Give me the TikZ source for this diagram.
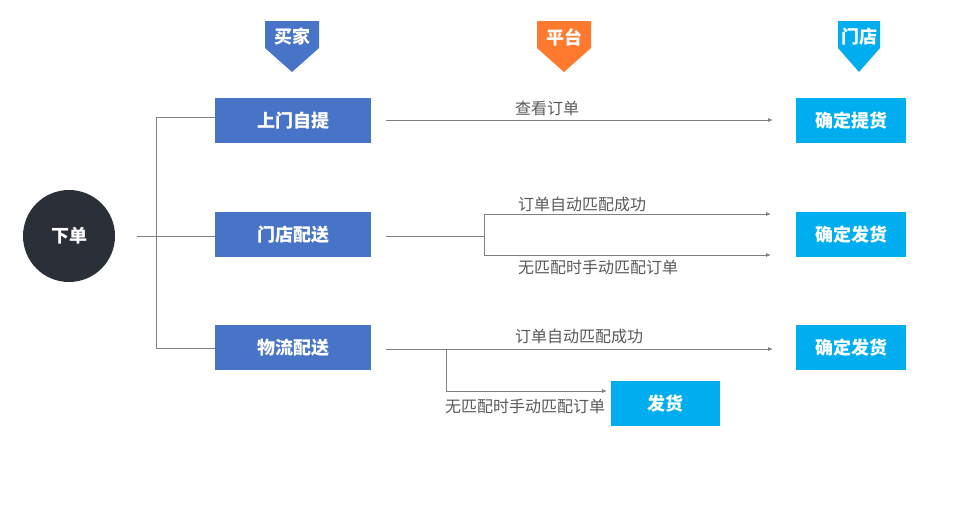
\documentclass[tikz,border=0pt]{standalone}
\usepackage{fontspec}
\newfontfamily\cjk{Noto Sans CJK SC}
\usetikzlibrary{arrows.meta}
\definecolor{buyer}{HTML}{4874C8}
\definecolor{platform}{HTML}{FF7A2F}
\definecolor{shop}{HTML}{00AEEF}
\definecolor{dark}{HTML}{2B2F38}
\definecolor{linegray}{HTML}{808080}
\definecolor{textgray}{HTML}{595959}
\begin{document}
\begin{tikzpicture}[x=1pt,y=-1pt,
  buyerbox/.style={fill=buyer,text=white,minimum width=156pt,minimum height=45pt,
    font=\cjk\bfseries\fontsize{18}{18}\selectfont,inner sep=0pt},
  shopbox/.style={fill=shop,text=white,minimum width=110pt,minimum height=45pt,
    font=\cjk\bfseries\fontsize{18}{18}\selectfont,inner sep=0pt},
  head/.style={text=white,font=\cjk\bfseries\fontsize{18}{18}\selectfont,inner sep=0pt},
  lbl/.style={text=textgray,font=\cjk\fontsize{16}{16}\selectfont,inner sep=0pt},
  link/.style={draw=linegray,line width=0.8pt},
  arr/.style={link,-{Latex[length=5pt,width=4pt]}}]
\useasboundingbox (0,0) rectangle (960,514);

% column heads
\fill[buyer] (265,21) -- (319,21) -- (319,48) -- (292,72) -- (265,48) -- cycle;
\node[head] (hbuyer) at (292,37) {买家};
\fill[platform] (537,21) -- (591,21) -- (591,48) -- (564,72) -- (537,48) -- cycle;
\node[head] (hplatform) at (564,37) {平台};
\fill[shop] (838,21) -- (880,21) -- (880,48) -- (859,72) -- (838,48) -- cycle;
\node[head] (hshop) at (859,37) {门店};

% order
\node[circle,fill=dark,minimum size=92pt,inner sep=0pt,text=white,
  font=\cjk\bfseries\fontsize{18}{18}\selectfont] (order) at (69,236) {下单};

\node[buyerbox] (pick) at (293,120.5) {上门自提};
\node[buyerbox] (deliver) at (293,234.5) {门店配送};
\node[buyerbox] (express) at (293,347.5) {物流配送};

\node[shopbox] (pickok) at (851,120.5) {确定提货};
\node[shopbox] (deliverok) at (851,234.5) {确定发货};
\node[shopbox] (expressok) at (851,347.5) {确定发货};
\node[shopbox,minimum width=109pt] (ship) at (665.5,403.5) {发货};

% bracket
\coordinate (bl) at (137,236);
\coordinate (bt) at (156,117);
\coordinate (bb) at (156,348);
\draw[link] (bl) -- (deliver.west |- bl);
\draw[link] (pick.west |- bt) -- (bt) -- (bb) -- (express.west |- bb);

% pick up
\coordinate (p0) at (386,120);
\coordinate (p1) at (773,120);
\draw[arr] (p0) -- (p1);
\node[lbl] (lview) at (547,108) {查看订单};

% shop delivery
\coordinate (d0) at (386,236);
\coordinate (d1) at (484,236);
\coordinate (d2) at (484,214);
\coordinate (d3) at (484,255);
\draw[link] (d0) -- (d1);
\draw[arr] (d1) -- (d2) -- (771,214);
\draw[arr] (d1) -- (d3) -- (771,255);
\node[lbl,anchor=west] (lauto1) at (518,204) {订单自动匹配成功};
\node[lbl,anchor=west] (lhand1) at (518,267) {无匹配时手动匹配订单};

% express
\coordinate (e0) at (386,349);
\coordinate (e1) at (773,349);
\coordinate (e2) at (446,349);
\coordinate (e3) at (446,391);
\coordinate (e4) at (607,391);
\draw[arr] (e0) -- (e1);
\draw[arr] (e2) -- (e3) -- (e4);
\node[lbl,anchor=west] (lauto2) at (515,336) {订单自动匹配成功};
\node[lbl,anchor=west] (lhand2) at (445,406) {无匹配时手动匹配订单};
\end{tikzpicture}
\end{document}
